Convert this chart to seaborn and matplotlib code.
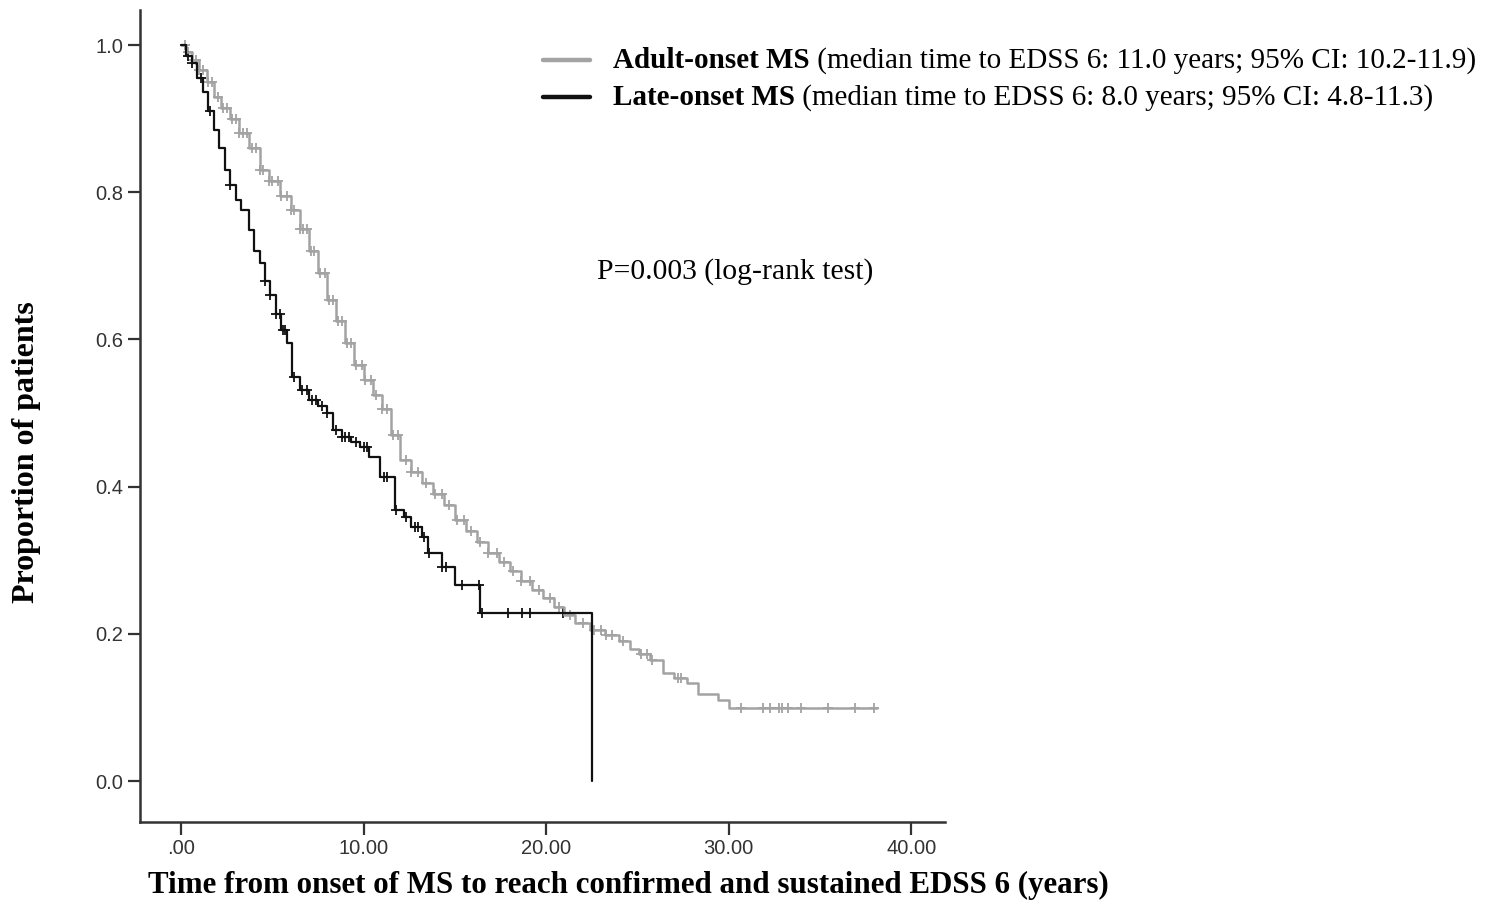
import numpy as np
import pandas as pd
import matplotlib
matplotlib.use("Agg")
import matplotlib.pyplot as plt
from matplotlib.lines import Line2D
import seaborn as sns

# Kaplan-Meier step values (years, proportion without EDSS 6)
adult_time = [0, 0.3, 0.6, 1.0, 1.4, 1.8, 2.2, 2.7, 3.2, 3.7, 4.3, 4.8, 5.4, 6.0,
              6.5, 7.0, 7.5, 8.0, 8.5, 9.0, 9.5, 10.0, 10.5, 11.0, 11.5, 12.0,
              12.6, 13.2, 13.8, 14.4, 15.0, 15.6, 16.2, 16.8, 17.4, 18.0, 18.6,
              19.2, 19.8, 20.4, 21.0, 21.6, 22.4, 23.2, 24.0, 24.6, 25.1, 25.7,
              26.4, 27.0, 27.7, 28.3, 29.4, 30.0, 38.1]
adult_surv = [1.0, 0.99, 0.98, 0.966, 0.95, 0.93, 0.915, 0.90, 0.88, 0.86, 0.83,
              0.815, 0.795, 0.776, 0.75, 0.72, 0.69, 0.654, 0.625, 0.595, 0.565,
              0.545, 0.525, 0.505, 0.47, 0.436, 0.42, 0.405, 0.39, 0.375, 0.355,
              0.34, 0.325, 0.31, 0.298, 0.285, 0.272, 0.26, 0.248, 0.236, 0.225,
              0.215, 0.205, 0.198, 0.19, 0.18, 0.172, 0.165, 0.147, 0.14, 0.133,
              0.118, 0.11, 0.099, 0.099]
adult_censor = [0.2, 0.4, 0.6, 0.8, 1.0, 1.2, 1.5, 1.7, 2.0, 2.3, 2.5, 2.8, 3.0,
                3.2, 3.4, 3.6, 3.9, 4.1, 4.3, 4.5, 4.8, 5.0, 5.3, 5.5, 5.8, 6.0,
                6.2, 6.5, 6.7, 6.9, 7.1, 7.3, 7.6, 7.9, 8.1, 8.3, 8.6, 8.8, 9.1,
                9.3, 9.6, 9.9, 10.1, 10.4, 10.7, 11.0, 11.3, 11.6, 11.9, 12.3,
                12.6, 13.0, 13.4, 13.9, 14.3, 14.7, 15.1, 15.5, 15.9, 16.4, 16.8,
                17.3, 17.7, 18.2, 18.6, 19.1, 19.6, 20.2, 20.7, 21.3, 22.0, 22.6,
                23.0, 23.3, 23.6, 24.2, 25.2, 25.5, 25.8, 27.2, 27.4, 30.65,
                31.85, 32.25, 32.76, 32.89, 33.25, 33.98, 35.44, 36.9, 37.95]

late_time = [0, 0.3, 0.6, 0.9, 1.2, 1.5, 1.8, 2.1, 2.4, 2.7, 3.0, 3.3, 3.7, 4.0,
             4.3, 4.6, 4.9, 5.2, 5.5, 5.8, 6.1, 6.5, 7.0, 7.5, 8.0, 8.3, 8.8,
             9.3, 9.8, 10.3, 10.9, 11.7, 12.2, 12.6, 13.2, 13.5, 14.3, 15.0,
             16.4, 22.5]
late_surv = [1.0, 0.985, 0.975, 0.955, 0.936, 0.91, 0.885, 0.86, 0.83, 0.81,
             0.79, 0.776, 0.749, 0.72, 0.704, 0.68, 0.66, 0.635, 0.613, 0.595,
             0.549, 0.531, 0.518, 0.51, 0.50, 0.477, 0.467, 0.46, 0.454, 0.44,
             0.413, 0.368, 0.359, 0.345, 0.332, 0.31, 0.291, 0.266, 0.228, 0.0]
late_censor = [0.4, 0.6, 1.1, 1.6, 2.7, 4.6, 4.9, 5.2, 5.4, 5.6, 5.7, 6.2, 6.6,
               6.9, 7.2, 7.4, 7.7, 8.0, 8.5, 8.8, 9.0, 9.2, 9.6, 10.0, 10.2,
               11.1, 11.3, 11.8, 12.3, 12.8, 13.0, 13.3, 13.6, 14.3, 14.5, 15.4,
               16.3, 16.5, 17.9, 18.7, 19.1, 20.9]

x_ticks = [0, 10, 20, 30, 40]
x_ticklabels = [".00", "10.00", "20.00", "30.00", "40.00"]
y_ticks = [0.0, 0.2, 0.4, 0.6, 0.8, 1.0]
y_ticklabels = ["0.0", "0.2", "0.4", "0.6", "0.8", "1.0"]

GRAY = "#a3a3a3"
BLACK = "#111111"


def censor_points(times, surv, cens):
    # place each censor tick on the step curve
    idx = np.searchsorted(times, cens, side="right") - 1
    return pd.DataFrame({"t": cens, "s": np.asarray(surv)[idx]})


adult_df = pd.DataFrame({"t": adult_time, "s": adult_surv})
late_df = pd.DataFrame({"t": late_time, "s": late_surv})
adult_c = censor_points(adult_time, adult_surv, adult_censor)
late_c = censor_points(late_time, late_surv, late_censor)

sns.set_style("ticks")
plt.rcParams["font.family"] = ["Liberation Sans", "DejaVu Sans"]
plt.rcParams["text.color"] = "black"

fig = plt.figure(figsize=(14.92, 9.23), dpi=100)
ax = fig.add_axes([140 / 1492, 1 - 822 / 923, 805 / 1492, 812 / 923])

sns.lineplot(data=adult_df, x="t", y="s", ax=ax, color=GRAY, lw=1.8,
             drawstyle="steps-post", estimator=None, sort=False)
sns.lineplot(data=late_df, x="t", y="s", ax=ax, color=BLACK, lw=1.6,
             drawstyle="steps-post", estimator=None, sort=False)
sns.scatterplot(data=adult_c, x="t", y="s", ax=ax, marker="+", color=GRAY,
                s=55, linewidth=1.3)
sns.scatterplot(data=late_c, x="t", y="s", ax=ax, marker="+", color=BLACK,
                s=55, linewidth=1.3)

ax.set_xlim(-2.245, 41.84)
ax.set_ylim(-0.0557, 1.0476)
ax.set_xticks(x_ticks)
ax.set_xticklabels(x_ticklabels)
ax.set_yticks(y_ticks)
ax.set_yticklabels(y_ticklabels)
ax.tick_params(axis="both", length=9, width=1.6, color="#333333",
               labelsize=14.5, labelcolor="#333333", pad=3)
sns.despine(ax=ax)
for sp in ["left", "bottom"]:
    ax.spines[sp].set_linewidth(1.8)
    ax.spines[sp].set_color("#333333")

ax.set_xlabel("")
ax.set_ylabel("")
serif = ["Liberation Serif", "DejaVu Serif"]
fig.text(148 / 1492, 1 - 893 / 923,
         "Time from onset of MS to reach confirmed and sustained EDSS 6 (years)",
         family=serif, fontsize=22.3, fontweight="bold", ha="left", va="baseline")
fig.text(27 / 1492, 1 - 452 / 923, "Proportion of patients", family=serif,
         fontsize=23, fontweight="bold", rotation=90, ha="center", va="center")

# legend
legend_rows = [
    (GRAY, "Adult-onset MS", " (median time to EDSS 6: 11.0 years; 95% CI: 10.2-11.9)", 60, 68),
    (BLACK, "Late-onset MS", " (median time to EDSS 6: 8.0 years; 95% CI: 4.8-11.3)", 97, 105),
]
for col, bold, rest, ly, by in legend_rows:
    fig.add_artist(Line2D([543 / 1492, 590 / 1492], [1 - ly / 923, 1 - ly / 923],
                          color=col, lw=3.2, transform=fig.transFigure))
    t1 = fig.text(613 / 1492, 1 - by / 923, bold, family=serif, fontsize=21,
                  fontweight="bold", ha="left", va="baseline")
    ax.annotate(rest, xy=(1, 0), xycoords=t1, family=serif, fontsize=21,
                ha="left", va="bottom", annotation_clip=False, color="black")

fig.text(597 / 1492, 1 - 279 / 923, "P=0.003 (log-rank test)", family=serif,
         fontsize=21.3, ha="left", va="baseline")

fig.savefig("out.png", dpi=100)
